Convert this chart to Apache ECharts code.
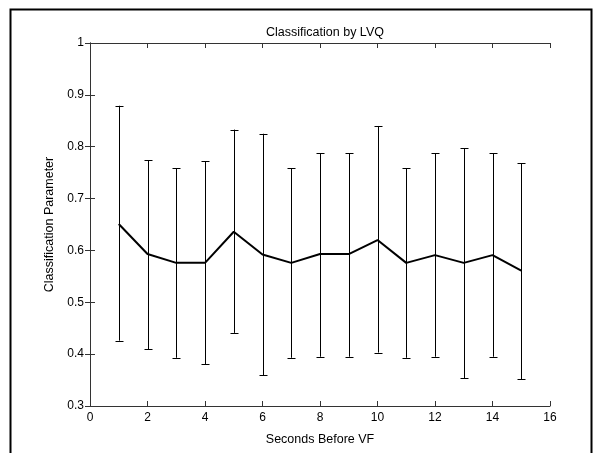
<!DOCTYPE html>
<html>
<head>
<meta charset="utf-8">
<script src="https://cdn.jsdelivr.net/npm/echarts@6/dist/echarts.min.js"></script>
<style>html,body{margin:0;padding:0;background:#fff;}#c{width:601px;height:453px;}</style>
</head>
<body>
<div id="c"></div>
<script>
const seconds = [1,2,3,4,5,6,7,8,9,10,11,12,13,14,15];
const means   = [0.651,0.593,0.576,0.576,0.636,0.592,0.576,0.593,0.593,0.620,0.576,0.591,0.576,0.591,0.561];
const upper   = [0.879,0.774,0.758,0.772,0.833,0.825,0.758,0.787,0.787,0.840,0.758,0.787,0.797,0.787,0.768];
const lower   = [0.426,0.409,0.393,0.381,0.441,0.359,0.393,0.395,0.395,0.403,0.393,0.395,0.354,0.395,0.352];
const xTicks = [0,2,4,6,8,10,12,14,16];
const yTicks = [0.3,0.4,0.5,0.6,0.7,0.8,0.9,1];

const chart = echarts.init(document.getElementById('c'));
const font = 'Liberation Sans, Arial, sans-serif';
const axisCommon = {
  axisLine:{show:true,lineStyle:{color:'#333',width:1}},
  axisTick:{show:true,inside:true,length:5,lineStyle:{color:'#333'}},
  splitLine:{show:false}
};
const errData = seconds.map((s,i)=>[s, lower[i], upper[i]]);
chart.setOption({
  animation:false,
  backgroundColor:'#fff',
  title:{text:'Classification by LVQ',left:320,top:21,textAlign:'center',
    textStyle:{fontFamily:font,fontSize:12.5,fontWeight:'normal',color:'#000'}},
  grid:{left:90,top:43,right:51,bottom:47},
  graphic:[{type:'rect',shape:{x:10.5,y:9.5,width:581,height:460},
    style:{fill:'none',stroke:'#000',lineWidth:2},silent:true}],
  xAxis:[
    Object.assign({type:'value',min:xTicks[0],max:xTicks[xTicks.length-1],interval:2,
      name:'Seconds Before VF',nameLocation:'middle',nameGap:27,
      nameTextStyle:{fontFamily:font,fontSize:12.5,color:'#000'},
      axisLabel:{fontFamily:font,fontSize:12,color:'#000',margin:6}},axisCommon),
    Object.assign({type:'value',position:'top',min:xTicks[0],max:xTicks[xTicks.length-1],interval:2,
      axisLabel:{show:false}},axisCommon)
  ],
  yAxis:[
    Object.assign({type:'value',min:yTicks[0],max:yTicks[yTicks.length-1],interval:0.1,
      name:'Classification Parameter',nameLocation:'middle',nameGap:33,
      nameTextStyle:{fontFamily:font,fontSize:12.5,color:'#000'},
      axisLabel:{fontFamily:font,fontSize:12,color:'#000',margin:6,
        formatter:v=>String(Math.round(v*10)/10)}},axisCommon),
    Object.assign({type:'value',position:'right',min:yTicks[0],max:yTicks[yTicks.length-1],interval:0.1,
      axisLabel:{show:false}},axisCommon)
  ],
  series:[
    {type:'custom',data:errData,silent:true,z:2,
      renderItem:function(params,api){
        const x=api.value(0);
        const lo=api.coord([x,api.value(1)]);
        const hi=api.coord([x,api.value(2)]);
        const cx=Math.round(lo[0])+0.5, w=4;
        const st={stroke:'#000',lineWidth:1};
        return {type:'group',children:[
          {type:'line',shape:{x1:cx,y1:lo[1],x2:cx,y2:hi[1]},style:st},
          {type:'line',shape:{x1:cx-w,y1:Math.round(lo[1])+0.5,x2:cx+w,y2:Math.round(lo[1])+0.5},style:st},
          {type:'line',shape:{x1:cx-w,y1:Math.round(hi[1])+0.5,x2:cx+w,y2:Math.round(hi[1])+0.5},style:st}
        ]};
      }},
    {type:'line',data:seconds.map((s,i)=>[s,means[i]]),showSymbol:false,z:3,
      lineStyle:{color:'#000',width:2}}
  ]
});
</script>
</body>
</html>
